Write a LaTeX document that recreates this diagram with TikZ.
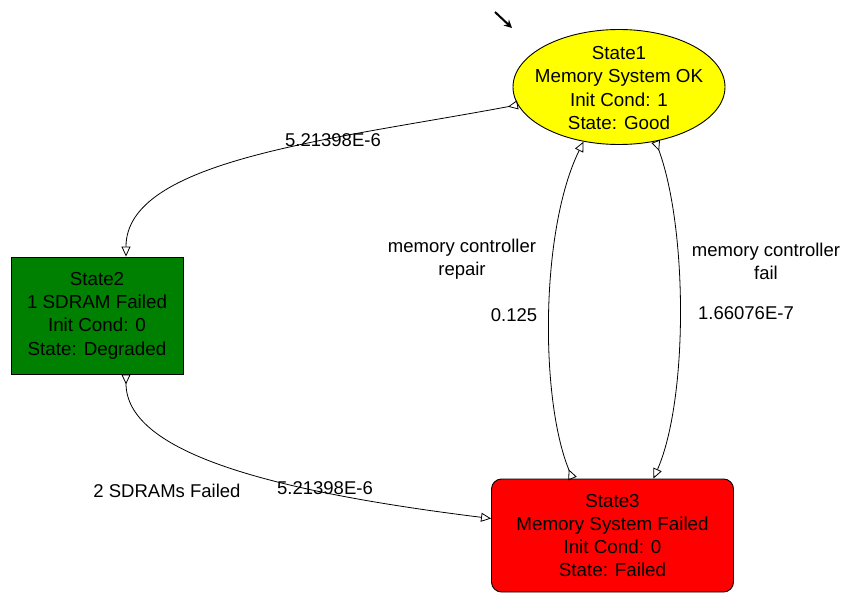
\documentclass[tikz,border=0pt]{standalone}
\usepackage{fontspec}
\setmainfont{Liberation Sans}
\usetikzlibrary{arrows.meta}
\usetikzlibrary{shapes.geometric}
\usetikzlibrary{calc}
\usepackage{xcolor}

\definecolor{stategreen}{RGB}{0,128,0}
\definecolor{statered}{RGB}{255,0,0}
\definecolor{stateyellow}{RGB}{255,255,0}

\tikzset{
  statetext/.style={align=center, font=\fontsize{18.8}{23.3}\selectfont},
  stateoval/.style={ellipse, draw, line width=0.9pt, fill=stateyellow,
    minimum width=212pt, minimum height=115pt, inner sep=0pt},
  statebox/.style={rectangle, draw, line width=0.9pt, statetext,
    inner sep=0pt},
  trans/.style={line width=0.8pt,
    {Triangle[open,reversed,length=10pt,width=9pt]}-{Triangle[open,length=10pt,width=9pt]}},
  translabel/.style={font=\fontsize{18.5}{23}\selectfont, align=center},
  initarrow/.style={line width=2pt, -{Stealth[length=8pt,width=8pt]}}
}

\begin{document}
\begin{tikzpicture}[x=1pt, y=-1pt]

      \useasboundingbox (0,0) rectangle (844,594);

      % States
      \node[stateoval] (s1) at (619,87) {};
      \node[statetext] (s1text) at (619,88) {State1\\Memory System OK\\Init Cond: 1\\State: Good};
      \node[statebox, fill=stategreen, minimum width=172pt, minimum height=117pt] (s2) at (97,315.5)
        {State2\\1 SDRAM Failed\\Init Cond: 0\\State: Degraded};
      \node[statebox, fill=statered, rounded corners=10pt, minimum width=242pt, minimum height=113pt] (s3) at (612.5,535.5)
        {State3\\Memory System Failed\\Init Cond: 0\\State: Failed};

      % Initial marker
      \coordinate (initstart) at (495,12);
      \coordinate (initend) at (512,28);
      \draw[initarrow] (initstart) -- (initend);

      % Transitions
      \draw[trans] (s1.190) .. controls (330,140) and (126,160) .. ([xshift=29pt]s2.north);
      \draw[trans] ([xshift=29pt]s2.south) .. controls (126,450) and (260,490) .. ([yshift=17pt]s3.west);
      \draw[trans] ([xshift=-40pt]s3.north) .. controls (540,400) and (540,230) .. (s1.237);
      \draw[trans] (s1.304) .. controls (688,230) and (688,400) .. ([xshift=41pt]s3.north);

      % Labels
      \node[translabel] (rate12) at (333,140) {5.21398E-6};
      \node[translabel] (rate23) at (325,488) {5.21398E-6};
      \node[translabel] (name23) at (167,491) {2 SDRAMs Failed};
      \node[translabel] (name31) at (462,259) {memory controller\\repair};
      \node[translabel] (rate31) at (514,315) {0.125};
      \node[translabel] (name13) at (766,261) {memory controller\\fail};
      \node[translabel] (rate13) at (746,313) {1.66076E-7};

  \end{tikzpicture}
\end{document}
